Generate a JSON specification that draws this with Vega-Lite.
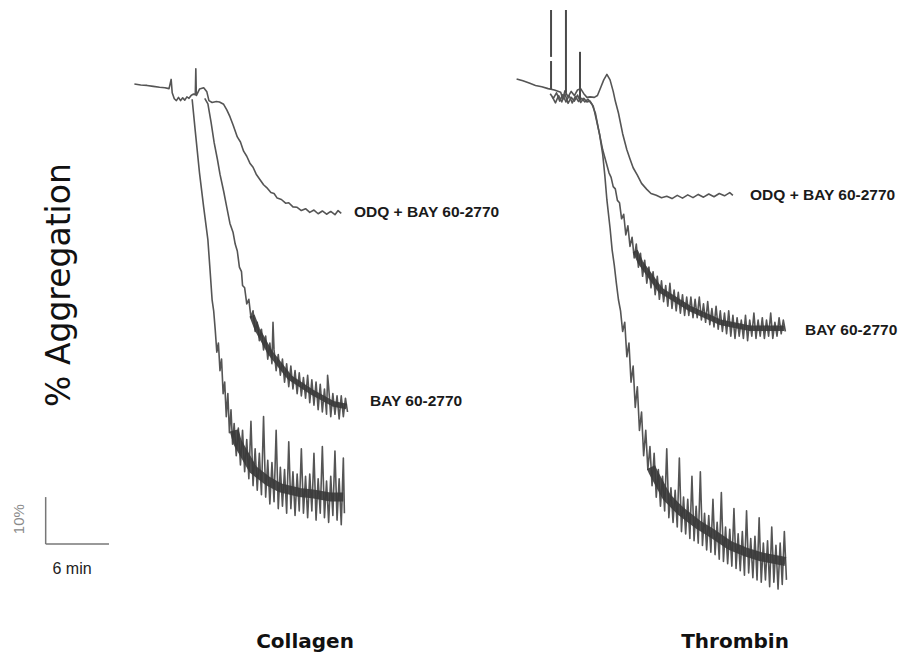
{
"$schema": "https://vega.github.io/schema/vega-lite/v6.json",
"width": 906, "height": 655,
"autosize": {"type": "fit", "contains": "padding"},
"padding": 0,
"background": "white",
"config": {"view": {"stroke": null}},
"datasets": {
"traces": [
{"s":"c_odq","t":12.8,"a":-1.3},{"s":"c_odq","t":13.4,"a":-1.1},{"s":"c_odq","t":14.0,"a":-1.0},{"s":"c_odq","t":14.6,"a":-0.8},{"s":"c_odq","t":15.2,"a":-0.6},{"s":"c_odq","t":15.7,"a":-0.5},{"s":"c_odq","t":16.1,"a":-0.3},{"s":"c_odq","t":16.3,"a":-2.3},{"s":"c_odq","t":16.4,"a":0.6},{"s":"c_odq","t":16.6,"a":1.9},{"s":"c_odq","t":16.8,"a":2.3},{"s":"c_odq","t":17.0,"a":1.6},{"s":"c_odq","t":17.2,"a":2.3},{"s":"c_odq","t":17.4,"a":1.7},{"s":"c_odq","t":17.6,"a":2.2},{"s":"c_odq","t":17.8,"a":1.5},{"s":"c_odq","t":18.0,"a":1.8},{"s":"c_odq","t":18.2,"a":1.2},{"s":"c_odq","t":18.4,"a":0.9},{"s":"c_odq","t":18.6,"a":1.0},{"s":"c_odq","t":18.65,"a":-4.6},{"s":"c_odq","t":18.7,"a":1.2},{"s":"c_odq","t":19.0,"a":-0.2},{"s":"c_odq","t":19.4,"a":-0.5},{"s":"c_odq","t":19.7,"a":0.4},{"s":"c_odq","t":19.9,"a":2.3},{"s":"c_odq","t":20.2,"a":2.7},{"s":"c_odq","t":20.6,"a":2.5},{"s":"c_odq","t":20.9,"a":2.6},{"s":"c_odq","t":21.3,"a":3.1},{"s":"c_odq","t":21.6,"a":4.3},{"s":"c_odq","t":21.9,"a":5.8},{"s":"c_odq","t":22.2,"a":7.6},{"s":"c_odq","t":22.6,"a":10.2},{"s":"c_odq","t":22.9,"a":11.3},{"s":"c_odq","t":23.2,"a":13.3},{"s":"c_odq","t":23.5,"a":14.4},{"s":"c_odq","t":23.8,"a":15.9},{"s":"c_odq","t":24.1,"a":16.8},{"s":"c_odq","t":24.4,"a":18.3},{"s":"c_odq","t":24.8,"a":19.6},{"s":"c_odq","t":25.1,"a":20.6},{"s":"c_odq","t":25.4,"a":21.2},{"s":"c_odq","t":25.8,"a":22.3},{"s":"c_odq","t":26.1,"a":22.5},{"s":"c_odq","t":26.4,"a":23.5},{"s":"c_odq","t":26.8,"a":23.8},{"s":"c_odq","t":27.2,"a":24.6},{"s":"c_odq","t":27.5,"a":24.5},{"s":"c_odq","t":27.9,"a":25.4},{"s":"c_odq","t":28.3,"a":25.5},{"s":"c_odq","t":28.7,"a":26.2},{"s":"c_odq","t":29.1,"a":25.8},{"s":"c_odq","t":29.5,"a":26.6},{"s":"c_odq","t":29.9,"a":26.1},{"s":"c_odq","t":30.3,"a":26.9},{"s":"c_odq","t":30.7,"a":26.3},{"s":"c_odq","t":31.1,"a":27.0},{"s":"c_odq","t":31.5,"a":26.4},{"s":"c_odq","t":31.9,"a":27.1},{"s":"c_odq","t":32.2,"a":26.2},{"s":"c_odq","t":32.5,"a":26.8},

{"s":"c_bay","t":19.5,"a":1.8},{"s":"c_bay","t":19.8,"a":3.0},{"s":"c_bay","t":20.1,"a":7.0},{"s":"c_bay","t":20.4,"a":11.5},{"s":"c_bay","t":20.7,"a":15.0},{"s":"c_bay","t":20.95,"a":18.3},{"s":"c_bay","t":21.3,"a":22.0},{"s":"c_bay","t":21.6,"a":25.5},{"s":"c_bay","t":21.9,"a":29.0},{"s":"c_bay","t":22.2,"a":31.0},{"s":"c_bay","t":22.4,"a":33.5},{"s":"c_bay","t":22.6,"a":35.0},{"s":"c_bay","t":22.8,"a":38.5},{"s":"c_bay","t":23.0,"a":39.5},{"s":"c_bay","t":23.1,"a":42.5},{"s":"c_bay","t":23.3,"a":43.0},{"s":"c_bay","t":23.5,"a":46.5},{"s":"c_bay","t":23.7,"a":45.5},{"s":"c_bay","t":23.9,"a":49.5},{"s":"c_bay","t":24.1,"a":48.0},{"s":"c_bay","t":24.3,"a":52.5},{"s":"c_bay","t":24.5,"a":50.5},{"s":"c_bay","t":24.7,"a":54.5},{"s":"c_bay","t":24.9,"a":52.0},{"s":"c_bay","t":25.1,"a":56.5},{"s":"c_bay","t":25.3,"a":53.5},{"s":"c_bay","t":25.5,"a":58.5},{"s":"c_bay","t":25.7,"a":55.0},{"s":"c_bay","t":25.9,"a":59.5},{"s":"c_bay","t":26.0,"a":50.5},{"s":"c_bay","t":26.1,"a":56.5},{"s":"c_bay","t":26.3,"a":61.0},{"s":"c_bay","t":26.5,"a":57.5},{"s":"c_bay","t":26.7,"a":62.0},{"s":"c_bay","t":26.9,"a":58.5},{"s":"c_bay","t":27.1,"a":63.5},{"s":"c_bay","t":27.3,"a":59.5},{"s":"c_bay","t":27.5,"a":64.5},{"s":"c_bay","t":27.7,"a":60.0},{"s":"c_bay","t":27.9,"a":65.0},{"s":"c_bay","t":28.1,"a":61.0},{"s":"c_bay","t":28.3,"a":66.0},{"s":"c_bay","t":28.5,"a":61.5},{"s":"c_bay","t":28.7,"a":66.5},{"s":"c_bay","t":28.9,"a":62.5},{"s":"c_bay","t":29.1,"a":67.0},{"s":"c_bay","t":29.3,"a":62.0},{"s":"c_bay","t":29.5,"a":68.0},{"s":"c_bay","t":29.7,"a":63.0},{"s":"c_bay","t":29.9,"a":68.5},{"s":"c_bay","t":30.1,"a":63.5},{"s":"c_bay","t":30.3,"a":69.5},{"s":"c_bay","t":30.5,"a":64.0},{"s":"c_bay","t":30.7,"a":70.0},{"s":"c_bay","t":30.9,"a":65.0},{"s":"c_bay","t":31.1,"a":70.5},{"s":"c_bay","t":31.2,"a":62.0},{"s":"c_bay","t":31.3,"a":64.5},{"s":"c_bay","t":31.5,"a":71.0},{"s":"c_bay","t":31.7,"a":66.0},{"s":"c_bay","t":31.9,"a":70.5},{"s":"c_bay","t":32.1,"a":66.5},{"s":"c_bay","t":32.3,"a":71.5},{"s":"c_bay","t":32.5,"a":66.5},{"s":"c_bay","t":32.7,"a":71.0},{"s":"c_bay","t":32.9,"a":67.0},{"s":"c_bay","t":33.1,"a":70.0},

{"s":"c_ctl","t":18.3,"a":2.0},{"s":"c_ctl","t":18.6,"a":9.0},{"s":"c_ctl","t":19.0,"a":18.0},{"s":"c_ctl","t":19.4,"a":25.5},{"s":"c_ctl","t":19.8,"a":32.6},{"s":"c_ctl","t":20.0,"a":39.0},{"s":"c_ctl","t":20.2,"a":45.6},{"s":"c_ctl","t":20.35,"a":48.0},{"s":"c_ctl","t":20.5,"a":52.2},{"s":"c_ctl","t":20.65,"a":57.0},{"s":"c_ctl","t":20.8,"a":55.0},{"s":"c_ctl","t":20.95,"a":61.0},{"s":"c_ctl","t":21.1,"a":58.5},{"s":"c_ctl","t":21.25,"a":66.0},{"s":"c_ctl","t":21.4,"a":63.5},{"s":"c_ctl","t":21.55,"a":71.0},{"s":"c_ctl","t":21.7,"a":66.0},{"s":"c_ctl","t":21.85,"a":74.5},{"s":"c_ctl","t":22.0,"a":69.5},{"s":"c_ctl","t":22.15,"a":77.0},{"s":"c_ctl","t":22.3,"a":72.5},{"s":"c_ctl","t":22.5,"a":79.5},{"s":"c_ctl","t":22.7,"a":73.5},{"s":"c_ctl","t":22.9,"a":81.5},{"s":"c_ctl","t":23.1,"a":74.0},{"s":"c_ctl","t":23.3,"a":83.0},{"s":"c_ctl","t":23.5,"a":76.0},{"s":"c_ctl","t":23.7,"a":84.5},{"s":"c_ctl","t":23.9,"a":72.0},{"s":"c_ctl","t":24.1,"a":86.0},{"s":"c_ctl","t":24.3,"a":78.0},{"s":"c_ctl","t":24.5,"a":87.0},{"s":"c_ctl","t":24.7,"a":79.0},{"s":"c_ctl","t":24.9,"a":88.0},{"s":"c_ctl","t":25.1,"a":71.0},{"s":"c_ctl","t":25.3,"a":88.5},{"s":"c_ctl","t":25.5,"a":80.5},{"s":"c_ctl","t":25.7,"a":90.0},{"s":"c_ctl","t":25.9,"a":81.0},{"s":"c_ctl","t":26.1,"a":89.5},{"s":"c_ctl","t":26.3,"a":74.0},{"s":"c_ctl","t":26.5,"a":91.0},{"s":"c_ctl","t":26.7,"a":82.0},{"s":"c_ctl","t":26.9,"a":90.5},{"s":"c_ctl","t":27.1,"a":82.5},{"s":"c_ctl","t":27.3,"a":92.0},{"s":"c_ctl","t":27.5,"a":76.5},{"s":"c_ctl","t":27.7,"a":91.0},{"s":"c_ctl","t":27.9,"a":83.0},{"s":"c_ctl","t":28.1,"a":92.5},{"s":"c_ctl","t":28.3,"a":83.5},{"s":"c_ctl","t":28.5,"a":91.5},{"s":"c_ctl","t":28.7,"a":78.0},{"s":"c_ctl","t":28.9,"a":92.0},{"s":"c_ctl","t":29.1,"a":84.0},{"s":"c_ctl","t":29.3,"a":93.0},{"s":"c_ctl","t":29.5,"a":83.5},{"s":"c_ctl","t":29.7,"a":91.5},{"s":"c_ctl","t":29.9,"a":79.0},{"s":"c_ctl","t":30.1,"a":93.5},{"s":"c_ctl","t":30.3,"a":84.5},{"s":"c_ctl","t":30.5,"a":92.0},{"s":"c_ctl","t":30.7,"a":77.5},{"s":"c_ctl","t":30.9,"a":93.0},{"s":"c_ctl","t":31.1,"a":85.0},{"s":"c_ctl","t":31.3,"a":94.0},{"s":"c_ctl","t":31.5,"a":84.0},{"s":"c_ctl","t":31.7,"a":92.5},{"s":"c_ctl","t":31.9,"a":78.5},{"s":"c_ctl","t":32.1,"a":93.5},{"s":"c_ctl","t":32.3,"a":84.5},{"s":"c_ctl","t":32.5,"a":94.5},{"s":"c_ctl","t":32.7,"a":80.0},{"s":"c_ctl","t":32.8,"a":92.0},

{"s":"t_odq","t":49.2,"a":-2.4},{"s":"t_odq","t":49.8,"a":-2.0},{"s":"t_odq","t":50.4,"a":-1.5},{"s":"t_odq","t":51.0,"a":-1.0},{"s":"t_odq","t":51.6,"a":-0.7},{"s":"t_odq","t":52.2,"a":-0.3},{"s":"t_odq","t":52.8,"a":0.0},{"s":"t_odq","t":53.4,"a":0.5},{"s":"t_odq","t":53.6,"a":2.0},{"s":"t_odq","t":53.8,"a":0.2},{"s":"t_odq","t":54.1,"a":1.5},{"s":"t_odq","t":54.4,"a":0.3},{"s":"t_odq","t":54.7,"a":1.2},{"s":"t_odq","t":55.0,"a":0.0},{"s":"t_odq","t":55.3,"a":-0.3},{"s":"t_odq","t":55.6,"a":0.8},{"s":"t_odq","t":55.9,"a":1.6},{"s":"t_odq","t":56.2,"a":1.5},{"s":"t_odq","t":56.6,"a":1.6},{"s":"t_odq","t":56.9,"a":1.2},{"s":"t_odq","t":57.2,"a":-0.5},{"s":"t_odq","t":57.5,"a":-2.2},{"s":"t_odq","t":57.8,"a":-3.4},{"s":"t_odq","t":58.1,"a":-2.2},{"s":"t_odq","t":58.4,"a":0.3},{"s":"t_odq","t":58.6,"a":2.4},{"s":"t_odq","t":58.9,"a":5.0},{"s":"t_odq","t":59.3,"a":9.5},{"s":"t_odq","t":59.7,"a":13.0},{"s":"t_odq","t":60.0,"a":15.0},{"s":"t_odq","t":60.3,"a":16.9},{"s":"t_odq","t":60.7,"a":18.5},{"s":"t_odq","t":61.1,"a":20.3},{"s":"t_odq","t":61.6,"a":21.6},{"s":"t_odq","t":62.0,"a":22.5},{"s":"t_odq","t":62.5,"a":22.9},{"s":"t_odq","t":63.0,"a":23.4},{"s":"t_odq","t":63.5,"a":23.1},{"s":"t_odq","t":64.0,"a":23.6},{"s":"t_odq","t":64.5,"a":22.9},{"s":"t_odq","t":65.0,"a":23.5},{"s":"t_odq","t":65.5,"a":22.8},{"s":"t_odq","t":66.0,"a":23.4},{"s":"t_odq","t":66.5,"a":22.7},{"s":"t_odq","t":67.0,"a":23.3},{"s":"t_odq","t":67.5,"a":22.6},{"s":"t_odq","t":68.0,"a":23.2},{"s":"t_odq","t":68.5,"a":22.5},{"s":"t_odq","t":69.0,"a":23.0},{"s":"t_odq","t":69.5,"a":22.3},{"s":"t_odq","t":69.8,"a":22.9},

{"s":"t_bay","t":52.4,"a":0.8},{"s":"t_bay","t":52.7,"a":1.8},{"s":"t_bay","t":53.0,"a":0.6},{"s":"t_bay","t":53.3,"a":2.4},{"s":"t_bay","t":53.6,"a":1.0},{"s":"t_bay","t":53.9,"a":2.6},{"s":"t_bay","t":54.2,"a":1.2},{"s":"t_bay","t":54.5,"a":2.8},{"s":"t_bay","t":54.8,"a":1.4},{"s":"t_bay","t":55.1,"a":2.5},{"s":"t_bay","t":55.4,"a":1.8},{"s":"t_bay","t":55.7,"a":2.6},{"s":"t_bay","t":56.0,"a":2.0},{"s":"t_bay","t":56.4,"a":3.2},{"s":"t_bay","t":56.7,"a":5.0},{"s":"t_bay","t":57.0,"a":8.5},{"s":"t_bay","t":57.4,"a":13.0},{"s":"t_bay","t":57.7,"a":15.5},{"s":"t_bay","t":58.0,"a":18.0},{"s":"t_bay","t":58.2,"a":19.0},{"s":"t_bay","t":58.4,"a":21.0},{"s":"t_bay","t":58.6,"a":21.5},{"s":"t_bay","t":58.8,"a":24.0},{"s":"t_bay","t":59.0,"a":24.5},{"s":"t_bay","t":59.2,"a":28.0},{"s":"t_bay","t":59.4,"a":27.0},{"s":"t_bay","t":59.6,"a":31.5},{"s":"t_bay","t":59.8,"a":29.5},{"s":"t_bay","t":60.0,"a":34.0},{"s":"t_bay","t":60.2,"a":32.0},{"s":"t_bay","t":60.4,"a":36.5},{"s":"t_bay","t":60.6,"a":33.5},{"s":"t_bay","t":60.8,"a":38.5},{"s":"t_bay","t":61.0,"a":35.5},{"s":"t_bay","t":61.2,"a":40.5},{"s":"t_bay","t":61.4,"a":37.0},{"s":"t_bay","t":61.6,"a":42.0},{"s":"t_bay","t":61.8,"a":38.5},{"s":"t_bay","t":62.0,"a":43.0},{"s":"t_bay","t":62.2,"a":39.5},{"s":"t_bay","t":62.4,"a":44.5},{"s":"t_bay","t":62.6,"a":40.5},{"s":"t_bay","t":62.8,"a":45.5},{"s":"t_bay","t":63.0,"a":41.5},{"s":"t_bay","t":63.2,"a":46.0},{"s":"t_bay","t":63.4,"a":42.5},{"s":"t_bay","t":63.6,"a":47.0},{"s":"t_bay","t":63.8,"a":42.0},{"s":"t_bay","t":64.0,"a":47.5},{"s":"t_bay","t":64.2,"a":43.5},{"s":"t_bay","t":64.4,"a":48.0},{"s":"t_bay","t":64.6,"a":44.0},{"s":"t_bay","t":64.8,"a":48.5},{"s":"t_bay","t":65.0,"a":44.5},{"s":"t_bay","t":65.2,"a":49.0},{"s":"t_bay","t":65.4,"a":45.0},{"s":"t_bay","t":65.6,"a":49.0},{"s":"t_bay","t":65.8,"a":45.0},{"s":"t_bay","t":66.0,"a":49.5},{"s":"t_bay","t":66.2,"a":45.5},{"s":"t_bay","t":66.4,"a":49.5},{"s":"t_bay","t":66.6,"a":45.0},{"s":"t_bay","t":66.8,"a":50.0},{"s":"t_bay","t":67.0,"a":46.5},{"s":"t_bay","t":67.2,"a":50.5},{"s":"t_bay","t":67.4,"a":46.0},{"s":"t_bay","t":67.6,"a":51.0},{"s":"t_bay","t":67.8,"a":47.5},{"s":"t_bay","t":68.0,"a":51.5},{"s":"t_bay","t":68.2,"a":47.0},{"s":"t_bay","t":68.4,"a":52.0},{"s":"t_bay","t":68.6,"a":48.0},{"s":"t_bay","t":68.8,"a":52.5},{"s":"t_bay","t":69.0,"a":48.5},{"s":"t_bay","t":69.2,"a":53.0},{"s":"t_bay","t":69.4,"a":48.0},{"s":"t_bay","t":69.6,"a":53.5},{"s":"t_bay","t":69.8,"a":49.0},{"s":"t_bay","t":70.0,"a":54.0},{"s":"t_bay","t":70.2,"a":49.5},{"s":"t_bay","t":70.4,"a":53.5},{"s":"t_bay","t":70.6,"a":50.0},{"s":"t_bay","t":70.8,"a":54.0},{"s":"t_bay","t":71.0,"a":49.0},{"s":"t_bay","t":71.2,"a":54.5},{"s":"t_bay","t":71.4,"a":50.0},{"s":"t_bay","t":71.6,"a":53.5},{"s":"t_bay","t":71.8,"a":48.5},{"s":"t_bay","t":72.0,"a":54.0},{"s":"t_bay","t":72.2,"a":50.0},{"s":"t_bay","t":72.4,"a":53.5},{"s":"t_bay","t":72.6,"a":49.5},{"s":"t_bay","t":72.8,"a":54.0},{"s":"t_bay","t":73.0,"a":50.0},{"s":"t_bay","t":73.2,"a":53.5},{"s":"t_bay","t":73.4,"a":48.5},{"s":"t_bay","t":73.6,"a":54.0},{"s":"t_bay","t":73.8,"a":50.5},{"s":"t_bay","t":74.0,"a":53.5},{"s":"t_bay","t":74.2,"a":49.5},{"s":"t_bay","t":74.4,"a":53.0},{"s":"t_bay","t":74.6,"a":50.0},{"s":"t_bay","t":74.8,"a":52.5},

{"s":"t_ctl","t":52.6,"a":1.5},{"s":"t_ctl","t":52.9,"a":2.8},{"s":"t_ctl","t":53.2,"a":1.2},{"s":"t_ctl","t":53.5,"a":2.6},{"s":"t_ctl","t":53.8,"a":0.8},{"s":"t_ctl","t":54.1,"a":2.9},{"s":"t_ctl","t":54.4,"a":1.6},{"s":"t_ctl","t":54.7,"a":2.4},{"s":"t_ctl","t":55.0,"a":1.1},{"s":"t_ctl","t":55.3,"a":2.7},{"s":"t_ctl","t":55.6,"a":1.8},{"s":"t_ctl","t":55.9,"a":2.6},{"s":"t_ctl","t":56.2,"a":2.4},{"s":"t_ctl","t":56.5,"a":3.5},{"s":"t_ctl","t":56.8,"a":6.5},{"s":"t_ctl","t":57.1,"a":9.6},{"s":"t_ctl","t":57.4,"a":14.0},{"s":"t_ctl","t":57.6,"a":18.5},{"s":"t_ctl","t":57.8,"a":23.9},{"s":"t_ctl","t":58.1,"a":30.0},{"s":"t_ctl","t":58.3,"a":34.8},{"s":"t_ctl","t":58.5,"a":38.0},{"s":"t_ctl","t":58.7,"a":42.0},{"s":"t_ctl","t":58.9,"a":45.6},{"s":"t_ctl","t":59.1,"a":48.0},{"s":"t_ctl","t":59.3,"a":52.5},{"s":"t_ctl","t":59.5,"a":50.5},{"s":"t_ctl","t":59.7,"a":58.0},{"s":"t_ctl","t":59.9,"a":55.0},{"s":"t_ctl","t":60.1,"a":63.5},{"s":"t_ctl","t":60.3,"a":60.0},{"s":"t_ctl","t":60.5,"a":69.0},{"s":"t_ctl","t":60.7,"a":64.5},{"s":"t_ctl","t":60.9,"a":74.0},{"s":"t_ctl","t":61.1,"a":70.0},{"s":"t_ctl","t":61.3,"a":79.5},{"s":"t_ctl","t":61.5,"a":74.0},{"s":"t_ctl","t":61.7,"a":82.5},{"s":"t_ctl","t":61.9,"a":77.5},{"s":"t_ctl","t":62.1,"a":86.0},{"s":"t_ctl","t":62.3,"a":79.0},{"s":"t_ctl","t":62.5,"a":88.5},{"s":"t_ctl","t":62.7,"a":82.5},{"s":"t_ctl","t":62.9,"a":90.5},{"s":"t_ctl","t":63.1,"a":84.0},{"s":"t_ctl","t":63.3,"a":91.5},{"s":"t_ctl","t":63.5,"a":78.0},{"s":"t_ctl","t":63.7,"a":93.0},{"s":"t_ctl","t":63.9,"a":86.5},{"s":"t_ctl","t":64.1,"a":94.0},{"s":"t_ctl","t":64.3,"a":87.0},{"s":"t_ctl","t":64.5,"a":95.0},{"s":"t_ctl","t":64.7,"a":80.0},{"s":"t_ctl","t":64.9,"a":96.0},{"s":"t_ctl","t":65.1,"a":88.5},{"s":"t_ctl","t":65.3,"a":96.5},{"s":"t_ctl","t":65.5,"a":89.0},{"s":"t_ctl","t":65.7,"a":97.5},{"s":"t_ctl","t":65.9,"a":84.0},{"s":"t_ctl","t":66.1,"a":98.0},{"s":"t_ctl","t":66.3,"a":90.5},{"s":"t_ctl","t":66.5,"a":98.5},{"s":"t_ctl","t":66.7,"a":83.0},{"s":"t_ctl","t":66.9,"a":99.0},{"s":"t_ctl","t":67.1,"a":92.0},{"s":"t_ctl","t":67.3,"a":100.0},{"s":"t_ctl","t":67.5,"a":92.5},{"s":"t_ctl","t":67.7,"a":100.5},{"s":"t_ctl","t":67.9,"a":89.0},{"s":"t_ctl","t":68.1,"a":101.0},{"s":"t_ctl","t":68.3,"a":94.0},{"s":"t_ctl","t":68.5,"a":102.0},{"s":"t_ctl","t":68.7,"a":87.5},{"s":"t_ctl","t":68.9,"a":102.5},{"s":"t_ctl","t":69.1,"a":95.0},{"s":"t_ctl","t":69.3,"a":103.0},{"s":"t_ctl","t":69.5,"a":95.5},{"s":"t_ctl","t":69.7,"a":103.5},{"s":"t_ctl","t":69.9,"a":91.0},{"s":"t_ctl","t":70.1,"a":104.0},{"s":"t_ctl","t":70.3,"a":96.5},{"s":"t_ctl","t":70.5,"a":104.5},{"s":"t_ctl","t":70.7,"a":96.0},{"s":"t_ctl","t":70.9,"a":105.5},{"s":"t_ctl","t":71.1,"a":91.5},{"s":"t_ctl","t":71.3,"a":105.0},{"s":"t_ctl","t":71.5,"a":97.5},{"s":"t_ctl","t":71.7,"a":106.0},{"s":"t_ctl","t":71.9,"a":97.0},{"s":"t_ctl","t":72.1,"a":106.5},{"s":"t_ctl","t":72.3,"a":93.0},{"s":"t_ctl","t":72.5,"a":107.0},{"s":"t_ctl","t":72.7,"a":98.5},{"s":"t_ctl","t":72.9,"a":106.5},{"s":"t_ctl","t":73.1,"a":98.0},{"s":"t_ctl","t":73.3,"a":108.0},{"s":"t_ctl","t":73.5,"a":95.0},{"s":"t_ctl","t":73.7,"a":107.0},{"s":"t_ctl","t":73.9,"a":99.0},{"s":"t_ctl","t":74.1,"a":108.5},{"s":"t_ctl","t":74.3,"a":98.5},{"s":"t_ctl","t":74.5,"a":107.5},{"s":"t_ctl","t":74.7,"a":96.0},{"s":"t_ctl","t":74.9,"a":106.5}
],
"cores": [
{"s":"c_bay","t":24.0,"a":49.0},{"s":"c_bay","t":24.5,"a":52.0},{"s":"c_bay","t":25.7,"a":57.0},{"s":"c_bay","t":27.6,"a":62.5},{"s":"c_bay","t":29.8,"a":65.8},{"s":"c_bay","t":31.7,"a":68.2},{"s":"c_bay","t":33.0,"a":68.8},
{"s":"c_ctl","t":22.3,"a":74.0},{"s":"c_ctl","t":22.6,"a":76.5},{"s":"c_ctl","t":24.1,"a":82.5},{"s":"c_ctl","t":25.5,"a":85.0},{"s":"c_ctl","t":26.7,"a":86.5},{"s":"c_ctl","t":28.5,"a":87.5},{"s":"c_ctl","t":29.8,"a":87.8},{"s":"c_ctl","t":31.5,"a":88.5},{"s":"c_ctl","t":32.7,"a":88.5},
{"s":"t_bay","t":60.5,"a":35.0},{"s":"t_bay","t":61.0,"a":37.5},{"s":"t_bay","t":62.9,"a":43.5},{"s":"t_bay","t":65.7,"a":47.5},{"s":"t_bay","t":68.6,"a":50.5},{"s":"t_bay","t":71.4,"a":51.8},{"s":"t_bay","t":74.7,"a":51.8},
{"s":"t_ctl","t":62.0,"a":82.0},{"s":"t_ctl","t":62.2,"a":83.0},{"s":"t_ctl","t":63.5,"a":88.5},{"s":"t_ctl","t":64.8,"a":91.5},{"s":"t_ctl","t":66.5,"a":94.5},{"s":"t_ctl","t":67.9,"a":96.5},{"s":"t_ctl","t":69.5,"a":99.0},{"s":"t_ctl","t":71.1,"a":100.5},{"s":"t_ctl","t":72.5,"a":101.5},{"s":"t_ctl","t":74.8,"a":102.5}
],
"spikes": [
{"t":52.48,"a":-17.4,"a2":-7.2},{"t":52.48,"a":-6.3,"a2":-0.2},{"t":53.9,"a":-17.4,"a2":0.6},{"t":55.24,"a":-8.3,"a2":2.2}
],
"scalebar": [
{"t":4.35,"t2":4.35,"a":88.5,"a2":98.7},{"t":4.35,"t2":10.38,"a":98.7,"a2":98.7}
],
"labels": [
{"label":"ODQ + BAY 60-2770","t":33.71,"a":26.5},{"label":"BAY 60-2770","t":35.24,"a":67.6},{"label":"ODQ + BAY 60-2770","t":71.43,"a":22.8},{"label":"BAY 60-2770","t":76.67,"a":52.2}
],
"panels": [
{"label":"Collagen","t":29.05,"a":120.0},{"label":"Thrombin","t":70.0,"a":120.0}
]
},
"layer": [
{"data":{"name":"traces"},
 "mark":{"type":"line","stroke":"#555555","strokeWidth":1.6,"strokeJoin":"round"},
 "encoding":{
  "x":{"field":"t","type":"quantitative","scale":{"domain":[0,86.2857],"nice":false,"zero":false},"axis":null},
  "y":{"field":"a","type":"quantitative","scale":{"domain":[-19.57,122.83],"reverse":true,"nice":false,"zero":false},"axis":null},
  "detail":{"field":"s"},
  "order":{"value":null}}},
{"data":{"name":"cores"},
 "transform":[{"filter":{"field":"s","oneOf":["c_bay","t_bay"]}}],
 "mark":{"type":"line","stroke":"#3a3a3a","strokeWidth":5.5,"strokeJoin":"round","strokeCap":"butt","opacity":0.9},
 "encoding":{
  "x":{"field":"t","type":"quantitative","scale":{"domain":[0,86.2857],"nice":false,"zero":false},"axis":null},
  "y":{"field":"a","type":"quantitative","scale":{"domain":[-19.57,122.83],"reverse":true,"nice":false,"zero":false},"axis":null},
  "detail":{"field":"s"},
  "order":{"value":null}}},
{"data":{"name":"cores"},
 "transform":[{"filter":{"field":"s","oneOf":["c_ctl","t_ctl"]}}],
 "mark":{"type":"line","stroke":"#3a3a3a","strokeWidth":9,"strokeJoin":"round","strokeCap":"butt","opacity":0.9},
 "encoding":{
  "x":{"field":"t","type":"quantitative","scale":{"domain":[0,86.2857],"nice":false,"zero":false},"axis":null},
  "y":{"field":"a","type":"quantitative","scale":{"domain":[-19.57,122.83],"reverse":true,"nice":false,"zero":false},"axis":null},
  "detail":{"field":"s"},
  "order":{"value":null}}},
{"data":{"name":"spikes"},
 "mark":{"type":"rule","stroke":"#4a4a4a","strokeWidth":2},
 "encoding":{
  "x":{"field":"t","type":"quantitative","scale":{"domain":[0,86.2857],"nice":false,"zero":false},"axis":null},
  "y":{"field":"a","type":"quantitative","scale":{"domain":[-19.57,122.83],"reverse":true,"nice":false,"zero":false},"axis":null},
  "y2":{"field":"a2"}}},
{"data":{"name":"scalebar"},
 "mark":{"type":"rule","stroke":"#777777","strokeWidth":1.5},
 "encoding":{
  "x":{"field":"t","type":"quantitative","scale":{"domain":[0,86.2857],"nice":false,"zero":false},"axis":null},
  "x2":{"field":"t2"},
  "y":{"field":"a","type":"quantitative","scale":{"domain":[-19.57,122.83],"reverse":true,"nice":false,"zero":false},"axis":null},
  "y2":{"field":"a2"}}},
{"data":{"name":"labels"},
 "mark":{"type":"text","font":"Liberation Sans","fontWeight":"bold","fontSize":15.5,"align":"left","baseline":"middle","fill":"#1a1a1a"},
 "encoding":{
  "x":{"field":"t","type":"quantitative","scale":{"domain":[0,86.2857],"nice":false,"zero":false},"axis":null},
  "y":{"field":"a","type":"quantitative","scale":{"domain":[-19.57,122.83],"reverse":true,"nice":false,"zero":false},"axis":null},
  "text":{"field":"label"}}},
{"data":{"name":"panels"},
 "mark":{"type":"text","font":"DejaVu Sans","fontWeight":"bold","fontSize":20,"align":"center","baseline":"middle","fill":"#111111"},
 "encoding":{
  "x":{"field":"t","type":"quantitative","scale":{"domain":[0,86.2857],"nice":false,"zero":false},"axis":null},
  "y":{"field":"a","type":"quantitative","scale":{"domain":[-19.57,122.83],"reverse":true,"nice":false,"zero":false},"axis":null},
  "text":{"field":"label"}}},
{"data":{"values":[{"label":"% Aggregation","t":5.71,"a":42.4}]},
 "mark":{"type":"text","font":"DejaVu Sans","fontSize":33,"angle":270,"align":"center","baseline":"middle","fill":"#111111"},
 "encoding":{
  "x":{"field":"t","type":"quantitative","scale":{"domain":[0,86.2857],"nice":false,"zero":false},"axis":null},
  "y":{"field":"a","type":"quantitative","scale":{"domain":[-19.57,122.83],"reverse":true,"nice":false,"zero":false},"axis":null},
  "text":{"field":"label"}}},
{"data":{"values":[{"label":"10%","t":1.81,"a":93.3}]},
 "mark":{"type":"text","font":"Liberation Sans","fontSize":15,"angle":270,"align":"center","baseline":"middle","fill":"#8a8a8a"},
 "encoding":{
  "x":{"field":"t","type":"quantitative","scale":{"domain":[0,86.2857],"nice":false,"zero":false},"axis":null},
  "y":{"field":"a","type":"quantitative","scale":{"domain":[-19.57,122.83],"reverse":true,"nice":false,"zero":false},"axis":null},
  "text":{"field":"label"}}},
{"data":{"values":[{"label":"6 min","t":6.86,"a":104.1}]},
 "mark":{"type":"text","font":"Liberation Sans","fontSize":16,"align":"center","baseline":"middle","fill":"#222222"},
 "encoding":{
  "x":{"field":"t","type":"quantitative","scale":{"domain":[0,86.2857],"nice":false,"zero":false},"axis":null},
  "y":{"field":"a","type":"quantitative","scale":{"domain":[-19.57,122.83],"reverse":true,"nice":false,"zero":false},"axis":null},
  "text":{"field":"label"}}}
]
}
